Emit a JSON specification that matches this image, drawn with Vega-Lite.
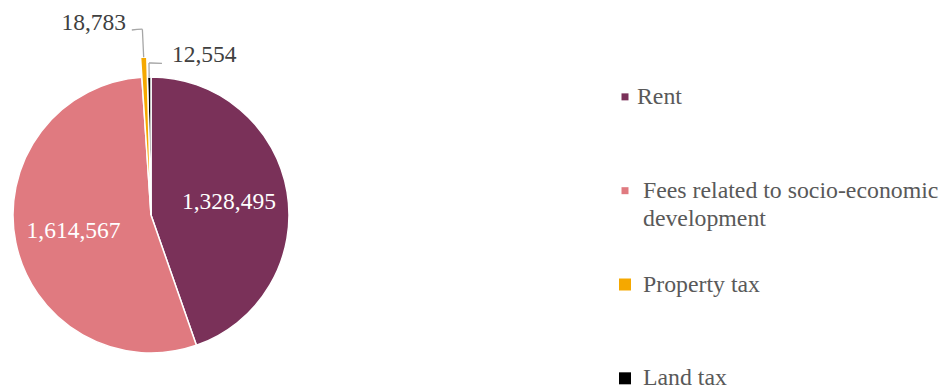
{
  "$schema": "https://vega.github.io/schema/vega-lite/v6.json",
  "padding": {"left": 1, "top": 11, "right": 0, "bottom": 0},
  "background": "white",
  "config": {"view": {"stroke": null}, "font": "Liberation Serif", "text": {"font": "Liberation Serif"}},
  "data": {"values": [
    {"category": "Rent", "label": "Rent", "value": 1328495, "order": 1},
    {"category": "Fees related to socio-economic development", "label": "Fees related to socio-economic\ndevelopment", "value": 1614567, "order": 2},
    {"category": "Property tax", "label": "Property tax", "value": 18783, "order": 3},
    {"category": "Land tax", "label": "Land tax", "value": 12554, "order": 4}
  ]},
  "spacing": 314,
  "hconcat": [
    {
      "width": 300,
      "height": 346,
      "transform": [
        {"stack": "value", "groupby": [], "sort": [{"field": "order", "order": "ascending"}], "as": ["v0", "v1"]},
        {"joinaggregate": [{"op": "sum", "field": "value", "as": "total"}]},
        {"calculate": "datum.v0 / datum.total", "as": "f0"},
        {"calculate": "datum.v1 / datum.total", "as": "f1"},
        {"calculate": "(datum.f0 + datum.f1) / 2", "as": "fm"}
      ],
      "layer": [
        {
          "transform": [{"filter": "datum.category !== 'Property tax'"}],
          "mark": {"type": "arc", "outerRadius": 138, "stroke": "white", "strokeWidth": 1.5},
          "encoding": {
            "theta": {"field": "f0", "type": "quantitative", "scale": {"domain": [0, 1], "nice": false, "zero": true}},
            "theta2": {"field": "f1"},
            "color": {"field": "category", "type": "nominal", "legend": null,
              "scale": {"domain": ["Rent", "Fees related to socio-economic development", "Property tax", "Land tax"],
                        "range": ["#7A3159", "#E07A80", "#F5A800", "#000000"]}}
          }
        },
        {
          "transform": [{"filter": "datum.category === 'Property tax'"}],
          "mark": {"type": "arc", "outerRadius": 158, "stroke": "white", "strokeWidth": 1.5},
          "encoding": {
            "theta": {"field": "f0", "type": "quantitative", "scale": {"domain": [0, 1], "nice": false, "zero": true}},
            "theta2": {"field": "f1"},
            "color": {"field": "category", "type": "nominal", "legend": null}
          }
        },
        {
          "transform": [{"filter": "datum.category === 'Property tax'"}],
          "mark": {"type": "arc", "innerRadius": 158, "outerRadius": 186, "filled": false, "stroke": "#A6A6A6", "strokeWidth": 1.3},
          "encoding": {
            "theta": {"field": "fm", "type": "quantitative"},
            "theta2": {"field": "fm"}
          }
        },
        {
          "transform": [{"filter": "datum.category === 'Property tax'"}, {"calculate": "datum.fm - 0.00906", "as": "fe"}],
          "mark": {"type": "arc", "innerRadius": 186, "outerRadius": 186, "filled": false, "stroke": "#A6A6A6", "strokeWidth": 1.3},
          "encoding": {
            "theta": {"field": "fm", "type": "quantitative"},
            "theta2": {"field": "fe"}
          }
        },
        {
          "transform": [{"filter": "datum.category === 'Land tax'"}],
          "mark": {"type": "arc", "innerRadius": 138, "outerRadius": 152, "filled": false, "stroke": "#A6A6A6", "strokeWidth": 1.3},
          "encoding": {
            "theta": {"field": "fm", "type": "quantitative"},
            "theta2": {"field": "fm"}
          }
        },
        {
          "transform": [{"filter": "datum.category === 'Land tax'"}, {"calculate": "datum.fm + 0.0136", "as": "fe"}],
          "mark": {"type": "arc", "innerRadius": 152, "outerRadius": 152, "filled": false, "stroke": "#A6A6A6", "strokeWidth": 1.3},
          "encoding": {
            "theta": {"field": "fm", "type": "quantitative"},
            "theta2": {"field": "fe"}
          }
        },
        {
          "transform": [{"filter": "datum.order <= 2"}],
          "mark": {"type": "text", "font": "Liberation Serif", "radius": 79, "fontSize": 23.5, "color": "white", "baseline": "middle", "align": "center"},
          "encoding": {
            "theta": {"field": "fm", "type": "quantitative"},
            "text": {"field": "value", "type": "quantitative", "format": ","}
          }
        },
        {
          "transform": [{"filter": "datum.category === 'Property tax'"}],
          "mark": {"type": "text", "font": "Liberation Serif", "radius": 192, "fontSize": 23.5, "color": "#404040", "baseline": "middle", "align": "right", "dx": -16},
          "encoding": {
            "theta": {"field": "fm", "type": "quantitative"},
            "text": {"field": "value", "type": "quantitative", "format": ","}
          }
        },
        {
          "transform": [{"filter": "datum.category === 'Land tax'"}],
          "mark": {"type": "text", "font": "Liberation Serif", "radius": 160, "fontSize": 23.5, "color": "#404040", "baseline": "middle", "align": "left", "dx": 23},
          "encoding": {
            "theta": {"field": "fm", "type": "quantitative"},
            "text": {"field": "value", "type": "quantitative", "format": ","}
          }
        }
      ]
    },
    {
      "width": 20,
      "height": 346,
      "encoding": {
        "y": {"field": "category", "type": "nominal", "axis": null,
          "scale": {"type": "point", "domain": ["Rent", "Fees related to socio-economic development", "Property tax", "Land tax"], "padding": 0.344, "align": 0.85}}
      },
      "layer": [
        {
          "mark": {"type": "point", "shape": "square", "filled": true, "opacity": 1, "strokeWidth": 0},
          "encoding": {
            "color": {"field": "category", "type": "nominal", "legend": null},
            "size": {"condition": {"test": "datum.order <= 2", "value": 49}, "value": 144}
          }
        },
        {
          "transform": [{"filter": "datum.category === 'Rent'"}],
          "mark": {"type": "text", "font": "Liberation Serif", "align": "left", "baseline": "middle", "dx": 12, "fontSize": 23.8, "lineBreak": "\n", "lineHeight": 28, "color": "#595959"},
          "encoding": {"text": {"field": "label"}}
        },
        {
          "transform": [{"filter": "datum.category !== 'Rent'"}],
          "mark": {"type": "text", "font": "Liberation Serif", "align": "left", "baseline": "middle", "dx": 18, "fontSize": 23.8, "lineBreak": "\n", "lineHeight": 28, "color": "#595959"},
          "encoding": {"text": {"field": "label"}}
        }
      ]
    }
  ]
}
